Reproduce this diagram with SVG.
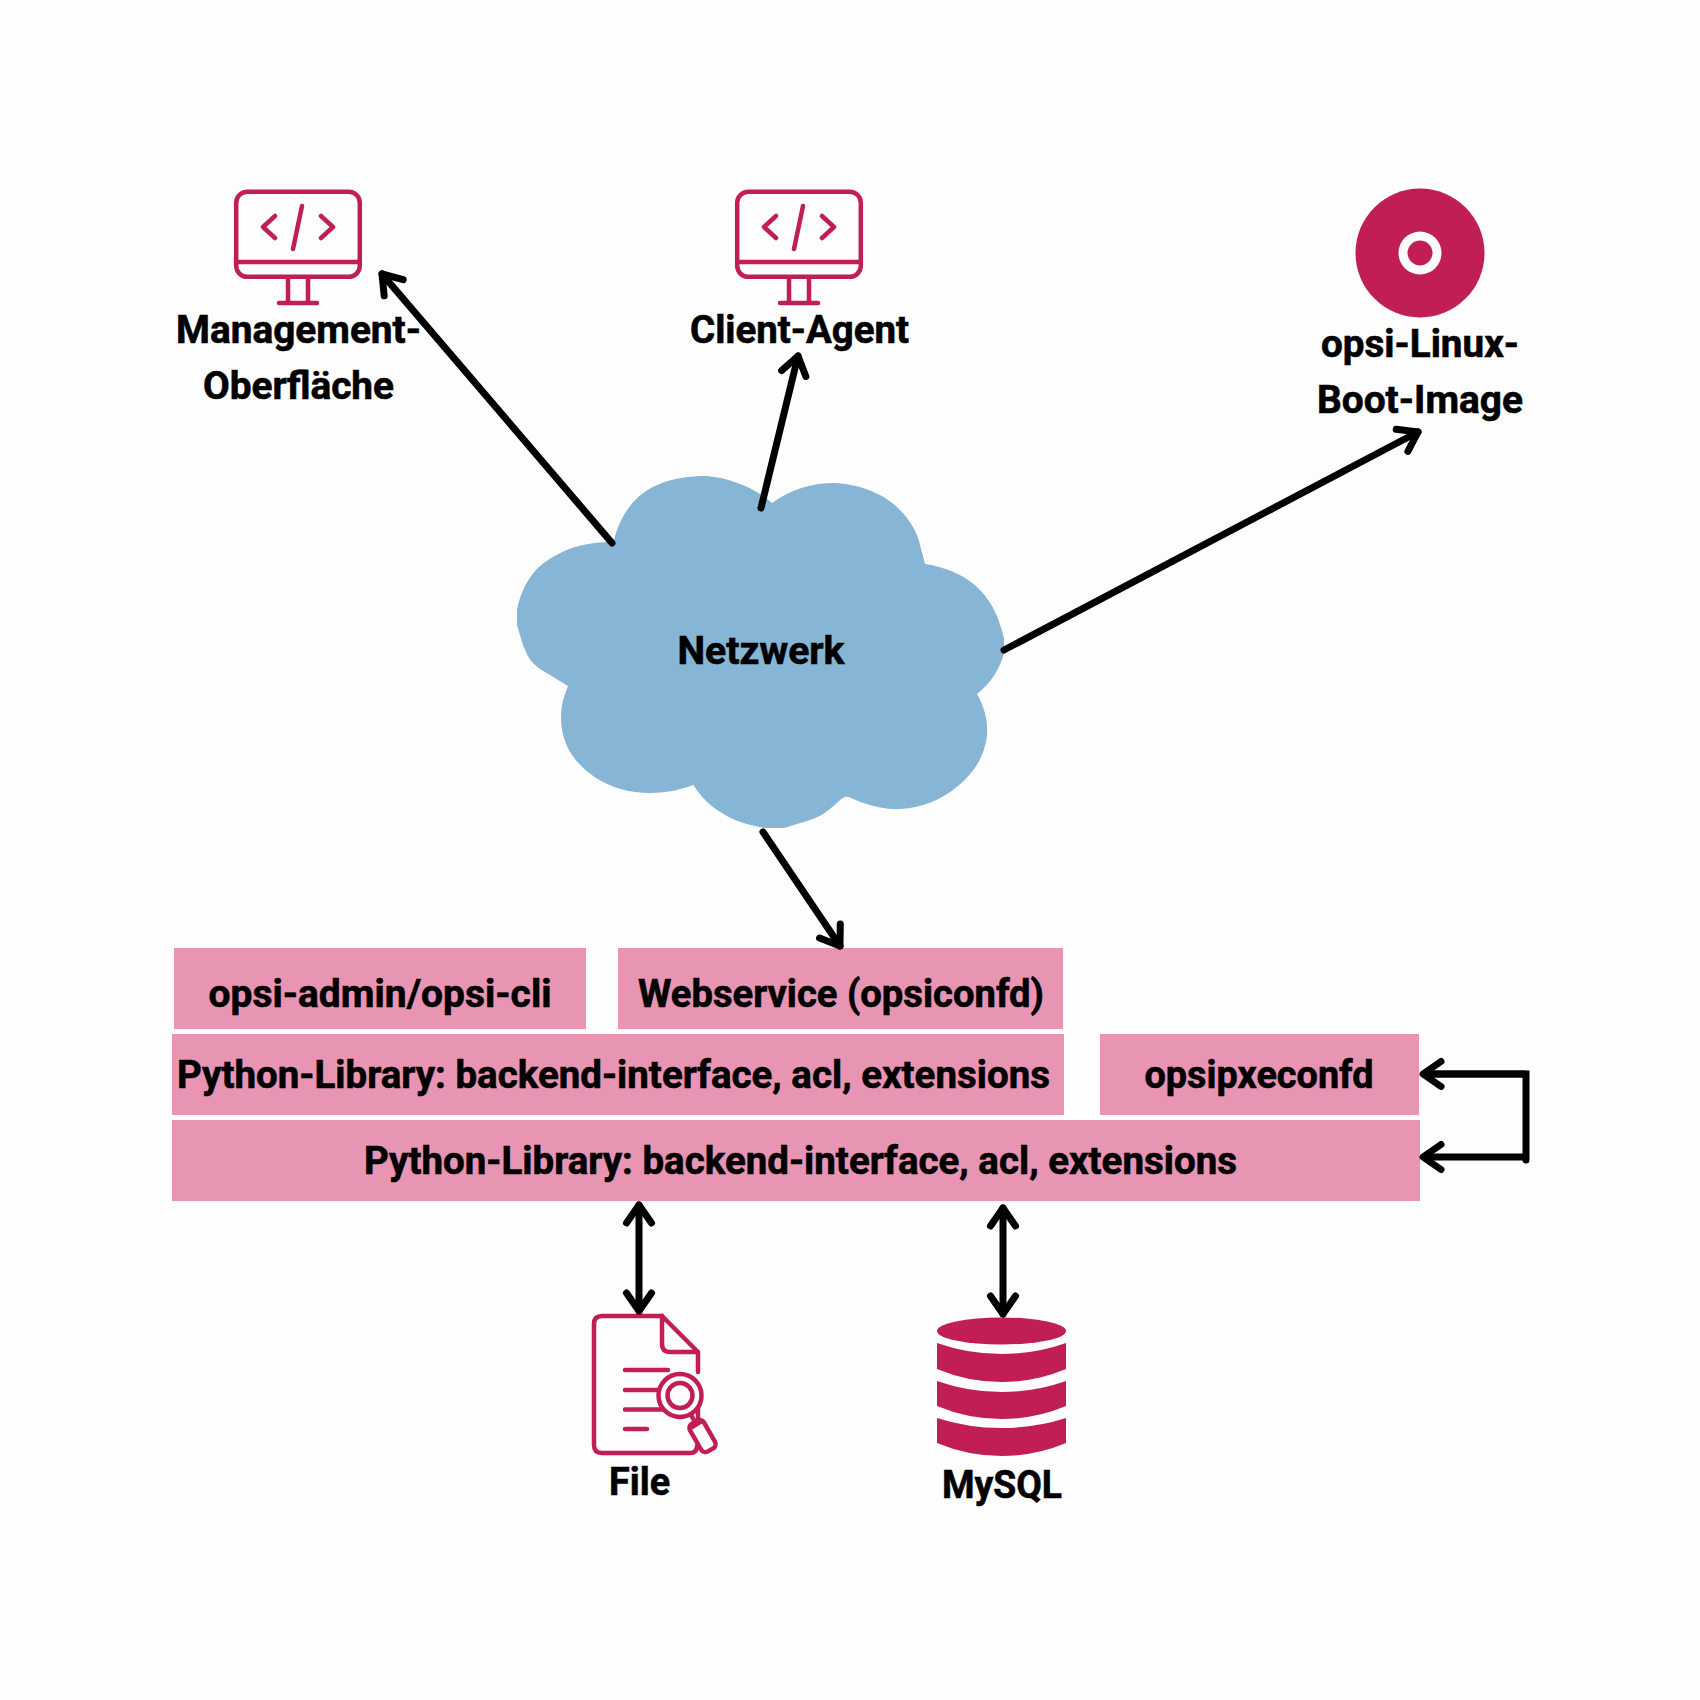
<svg xmlns="http://www.w3.org/2000/svg" xmlns:xlink="http://www.w3.org/1999/xlink" width="1700" height="1700" viewBox="0 0 1700 1700">
<style>
.t{font-family:"Roboto","Noto Sans","Liberation Sans",sans-serif;font-weight:700;font-size:38px;fill:#000;stroke:#000;stroke-width:.6px}
.bar{fill:#E795B3}
.ic{fill:none;stroke:#C21E56;stroke-width:4.5;stroke-linecap:round;stroke-linejoin:round}
.fm{fill:#C21E56}
.c{fill:none;stroke:#000;stroke-width:7;stroke-linecap:round;stroke-linejoin:miter}
.a{marker-end:url(#h)}
.b{marker-start:url(#h);marker-end:url(#h)}
</style>
<defs>
<marker id="h" markerUnits="userSpaceOnUse" markerWidth="40" markerHeight="40" viewBox="-25 -20 40 40" refX="0" refY="0" orient="auto-start-reverse" overflow="visible">
<path d="M-18 -12.5L0 0L-18 12.5" fill="none" stroke="#000" stroke-width="7" stroke-linecap="round" stroke-linejoin="round"/>
</marker>
<g id="monitor">
<rect class="ic" x="236.200" y="191.800" width="123.600" height="85" rx="11"/>
<path class="ic" d="M236.200 262H359.800M275 216L263 227L275 238M321 216L333 227L321 238M302 206L293 249"/>
<path class="ic" stroke-linecap="butt" d="M288 279V303M308 279V303"/>
<path class="ic" d="M279 303H317"/>
</g>
</defs>
<rect width="1700" height="1700" fill="#FDFDFD"/>
<g id="management">
<use href="#monitor" xlink:href="#monitor"/>
<text class="t" x="176" y="343" textLength="245" lengthAdjust="spacingAndGlyphs">Management-</text>
<text class="t" x="203" y="399" textLength="191" lengthAdjust="spacingAndGlyphs">Oberfläche</text>
</g>
<g id="client-agent">
<use href="#monitor" xlink:href="#monitor" transform="translate(501 0)"/>
<text class="t" x="690" y="343" textLength="219" lengthAdjust="spacingAndGlyphs">Client-Agent</text>
</g>
<g id="boot-image">
<circle class="fm" cx="1420" cy="253" r="64.500"/>
<circle cx="1420" cy="253" r="21.500" fill="#FDFDFD"/>
<circle class="fm" cx="1420" cy="253" r="12.500"/>
<text class="t" x="1321" y="357" textLength="198" lengthAdjust="spacingAndGlyphs">opsi-Linux-</text>
<text class="t" x="1317" y="413" textLength="206" lengthAdjust="spacingAndGlyphs">Boot-Image</text>
</g>
<g id="netzwerk">
<path fill="#86B5D5" d="M613.600 541.700C620 515 635 495 655 486C672 478 690 476 707 476C730 478 755 488 772 503C790 490 810 483 834 483C860 484 885 494 900 510C912 522 918 535 920 545L925 564C945 567 965 575 978 588C992 602 998 615 1004 638L1004 653C1000 668 992 682 977 694C985 708 988 722 987 735C985 755 975 772 958 786C942 800 920 808 901 809C885 810 865 805 849 797C845 796 842 798 838 802C828 811 822 816 810 820L784 828L765 828C750 825 735 822 722 813C710 806 700 796 693.500 785C680 790 665 793 650 793C630 793 612 788 596 778C575 764 561 745 561 717C561 705 564 696 568 686L540 669C530 662 527 655 523 645L517 625L517 610C520 595 525 583 535 571C545 560 560 552 575 547C590 543 600 542 613.600 541.700Z"/>
<text class="t" x="677.500" y="664" textLength="167" lengthAdjust="spacingAndGlyphs">Netzwerk</text>
</g>
<g id="opsi-admin">
<rect class="bar" x="174" y="948" width="412" height="81"/>
<text class="t" x="208.500" y="1007" textLength="343" lengthAdjust="spacingAndGlyphs">opsi-admin/opsi-cli</text>
</g>
<g id="webservice">
<rect class="bar" x="618" y="948" width="445" height="81"/>
<text class="t" x="638" y="1007" textLength="406" lengthAdjust="spacingAndGlyphs">Webservice (opsiconfd)</text>
</g>
<g id="python-library-1">
<rect class="bar" x="172" y="1034" width="892" height="81"/>
<text class="t" x="177" y="1088" textLength="873" lengthAdjust="spacingAndGlyphs">Python-Library: backend-interface, acl, extensions</text>
</g>
<g id="opsipxeconfd">
<rect class="bar" x="1100" y="1034" width="319" height="81"/>
<text class="t" x="1144.500" y="1088" textLength="229" lengthAdjust="spacingAndGlyphs">opsipxeconfd</text>
</g>
<g id="python-library-2">
<rect class="bar" x="172" y="1120" width="1248" height="81"/>
<text class="t" x="364" y="1174" textLength="873" lengthAdjust="spacingAndGlyphs">Python-Library: backend-interface, acl, extensions</text>
</g>
<g id="file">
<path class="ic" d="M662 1316H602Q594 1316 594 1324V1445Q594 1453 602 1453H690Q697 1453 697 1446"/>
<path class="ic" d="M662 1316L698 1352V1372M698 1407V1420M662 1316V1344Q662 1352 670 1352H698"/>
<path class="ic" d="M625 1370H668M625 1390H658M625 1409.500H662M625 1429H647"/>
<circle cx="680" cy="1395.500" r="21.500" fill="#FDFDFD" stroke="#C21E56" stroke-width="4.500"/>
<circle cx="680" cy="1395.500" r="12.500" fill="none" stroke="#C21E56" stroke-width="4.500"/>
<path class="ic" d="M691 1415L695 1422"/>
<rect x="694.500" y="1420" width="16" height="32" rx="5" fill="#FDFDFD" stroke="#C21E56" stroke-width="4.500" transform="rotate(-30 702.500 1436)"/>
<path class="ic" d="M692 1427L701 1421.500"/>
<text class="t" x="609" y="1495" textLength="61" lengthAdjust="spacingAndGlyphs">File</text>
</g>
<g id="mysql">
<ellipse class="fm" cx="1001.500" cy="1331" rx="64.500" ry="13.500"/>
<path class="fm" d="M937 1343Q968 1354 1001.500 1354Q1035 1354 1066 1343V1369Q1035 1382 1001.500 1382Q968 1382 937 1369Z"/>
<path class="fm" d="M937 1381Q968 1392 1001.500 1392Q1035 1392 1066 1381V1406Q1035 1419 1001.500 1419Q968 1419 937 1406Z"/>
<path class="fm" d="M937 1418Q968 1428 1001.500 1428Q1035 1428 1066 1418V1443Q1035 1456 1001.500 1456Q968 1456 937 1443Z"/>
<text class="t" x="942" y="1498" textLength="120" lengthAdjust="spacingAndGlyphs">MySQL</text>
</g>
<g id="connectors">
<path class="c a" d="M612 543L382 274"/>
<path class="c a" d="M761 508L798 356"/>
<path class="c a" d="M1004 650L1418 432"/>
<path class="c a" d="M763 832L840 946"/>
<path class="c" d="M1424 1074H1526V1160"/>
<path class="c a" style="stroke-linecap:butt" d="M1526 1157H1423"/>
<path class="c a" style="stroke-linecap:butt" d="M1526 1074H1423"/>
<path class="c b" d="M639 1205V1311"/>
<path class="c b" d="M1003 1208V1314"/>
</g>
</svg>
